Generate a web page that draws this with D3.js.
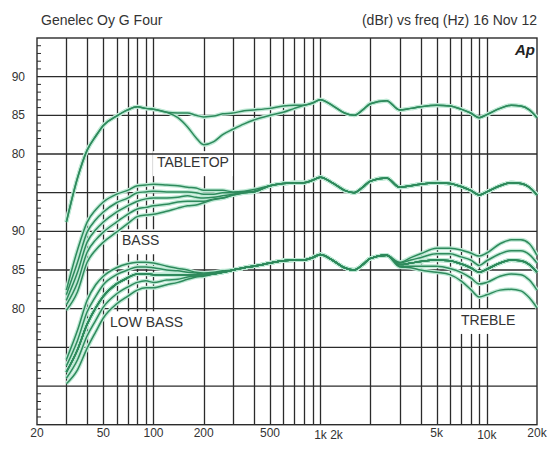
<!DOCTYPE html>
<html>
<head>
<meta charset="utf-8">
<script src="https://cdn.jsdelivr.net/npm/d3@7"></script>
<style>
  body { margin: 0; background: #fff; }
  text { font-family: "Liberation Sans", Arial, sans-serif; fill: #333; }
</style>
</head>
<body>
<svg id="chart"></svg>
<script>
/*=================
=== Data
=================*/
var freqs = [30, 35, 40, 45, 50, 60, 70, 80, 90, 100, 120, 140, 160, 180, 200, 230, 260, 300, 350, 400,
	500, 600, 700, 800, 900, 1000, 1200, 1400, 1600, 1800, 2000, 2500, 3000, 3500, 4000, 5000, 6000,
	7000, 8000, 9000, 10000, 12000, 14000, 16000, 18000, 20000];

// tabletop group (full range)
var tabletopFlat = [71.2, 76.9, 80.5, 82.3, 83.7, 84.9, 85.7, 86.1, 85.9, 85.8, 85.4, 85.3, 85.3, 85.0, 84.8, 84.9, 85.2, 85.3, 85.6, 85.7,
	85.9, 86.2, 86.3, 86.3, 86.6, 87.0, 86.2, 85.3, 85.0, 85.7, 86.5, 86.9, 85.7, 85.9, 86.1, 86.3, 86.2, 85.8, 85.3, 84.7, 85.1, 85.9, 86.3, 86.2, 85.7, 84.7];
var tabletopDip = [71.2, 76.9, 80.5, 82.3, 83.7, 84.9, 85.7, 86.1, 85.9, 85.8, 85.4, 84.7, 83.5, 82.1, 81.2, 81.6, 82.5, 83.2, 83.9, 84.4,
	85.0, 85.4, 85.9, 86.3, 86.6, 87.0, 86.2, 85.3, 85.0, 85.7, 86.5, 86.9, 85.7, 85.9, 86.1, 86.3, 86.2, 85.8, 85.3, 84.7, 85.1, 85.9, 86.3, 86.2, 85.7, 84.7];

// bass group: 30..400 Hz part, then shared 500..20k part
var bassLow = [
	[62.4, 67.6, 71.2, 72.8, 73.8, 74.8, 75.3, 75.9, 76.0, 76.1, 76.0, 75.9, 75.7, 75.6, 75.3, 75.3, 75.3, 75.1, 75.2, 75.4],
	[61.8, 66.0, 69.9, 71.5, 72.5, 73.7, 74.3, 75.0, 75.1, 75.2, 75.1, 75.1, 75.1, 75.0, 74.8, 74.8, 75.0, 75.0, 75.1, 75.2],
	[61.1, 64.7, 68.6, 70.2, 71.2, 72.5, 73.3, 73.9, 74.2, 74.3, 74.3, 74.4, 74.6, 74.4, 74.3, 74.4, 74.6, 74.8, 75.0, 75.1],
	[60.5, 63.4, 67.3, 68.9, 69.9, 71.2, 72.2, 72.9, 73.1, 73.3, 73.5, 73.8, 73.9, 73.9, 73.9, 74.2, 74.3, 74.7, 75.0, 75.1],
	[59.8, 62.2, 66.0, 67.6, 68.6, 69.9, 71.0, 71.9, 72.1, 72.2, 72.6, 73.0, 73.3, 73.4, 73.7, 74.1, 74.3, 74.7, 75.0, 75.1]
];
var bassHigh = [75.9, 76.2, 76.3, 76.3, 76.6, 77.0, 76.2, 75.3, 75.0, 75.7, 76.5, 76.9, 75.7, 75.9, 76.1, 76.3, 76.2, 75.8, 75.3, 74.7, 75.1, 75.9, 76.3, 76.2, 75.7, 74.7];

// low bass / treble group: 30..400, 500..2500, 3k..20k
var lowBassLow = [
	[53.4, 57.2, 61.1, 63.1, 64.2, 65.3, 65.8, 66.0, 66.0, 65.9, 65.5, 65.2, 65.0, 64.7, 64.6, 64.7, 64.9, 65.0, 65.3, 65.5],
	[52.6, 55.9, 59.6, 61.6, 63.1, 64.4, 65.0, 65.4, 65.4, 65.3, 65.0, 64.9, 64.7, 64.6, 64.5, 64.6, 64.7, 65.0, 65.3, 65.5],
	[51.8, 54.7, 58.0, 60.1, 61.6, 63.2, 64.0, 64.5, 64.5, 64.4, 64.4, 64.4, 64.4, 64.4, 64.4, 64.5, 64.7, 65.0, 65.3, 65.5],
	[51.0, 53.4, 56.5, 58.5, 60.2, 61.9, 62.8, 63.4, 63.6, 63.4, 63.7, 63.8, 64.1, 64.2, 64.4, 64.5, 64.7, 65.0, 65.3, 65.5],
	[50.3, 52.1, 54.9, 57.0, 58.8, 60.6, 61.6, 62.4, 62.7, 62.7, 63.1, 63.4, 63.8, 64.1, 64.2, 64.5, 64.7, 65.0, 65.3, 65.5]
];
var lowMid = [65.9, 66.2, 66.3, 66.3, 66.6, 67.0, 66.2, 65.3, 65.0, 65.7, 66.5, 66.9];
var trebleHigh = [
	[66.0, 66.6, 67.1, 67.8, 67.8, 67.6, 67.2, 66.8, 67.2, 68.4, 68.9, 68.9, 68.4, 66.9],
	[65.9, 66.3, 66.6, 67.1, 67.1, 66.7, 66.3, 65.6, 66.2, 67.1, 67.5, 67.5, 67.0, 65.9],
	[65.7, 65.9, 66.1, 66.3, 66.2, 65.8, 65.3, 64.7, 65.1, 65.9, 66.3, 66.2, 65.7, 64.7],
	[65.5, 65.5, 65.5, 65.5, 65.2, 64.7, 64.0, 63.2, 63.4, 64.2, 64.5, 64.4, 63.7, 62.4],
	[65.4, 65.3, 65.0, 64.7, 64.4, 63.6, 62.5, 61.5, 61.8, 62.4, 62.5, 62.3, 61.4, 60.1]
];

// axis labels
var xTickVals = [20, 50, 100, 200, 500, 1000, 5000, 10000, 20000];
var xTickLabels = ['20', '50', '100', '200', '500', '1k 2k', '5k', '10k', '20k'];
var yTickVals = [90, 85, 80, 70, 65, 60];
var yTickLabels = ['90', '85', '80', '90', '85', '80'];

// curve names written on the plot
var annoText = ['TABLETOP', 'BASS', 'LOW BASS', 'TREBLE'];
var annoFreq = [105, 64.7, 54.8, 7000];
var annoDb = [78.3, 68.2, 57.6, 57.9];

/*=================
=== Setup
=================*/
var width = 548, height = 453;
var mLeft = 37, mRight = 537, mTop = 38, mBottom = 424.7;
var gridColor = '#2b2b2b';

var svg = d3.select('#chart')
	.attr('width', width)
	.attr('height', height);

svg.append('rect')
	.attr('width', width)
	.attr('height', height)
	.attr('fill', '#fff');

var x = d3.scaleLog().domain([20, 20000]).range([mLeft, mRight]);
var y = d3.scaleLinear().domain([45, 95]).range([mBottom, mTop]);

// layers
var gV = svg.append('g');
var gBox = svg.append('g');
var gH = svg.append('g');
var gCurves = svg.append('g');
var gText = svg.append('g');

// vertical grid: 30..90, 100..900, 1k..9k, 10k
var xGrid = [];
[10, 100, 1000].forEach(dec => {
	for (var k = 1; k <= 9; k++) {
		var f = dec * k;
		if (f > 20) xGrid.push(f);
	}
});
xGrid.push(10000);

gV.selectAll('line')
	.data(xGrid)
	.enter()
	.append('line')
	.attr('x1', d => Math.round(x(d)) + 0.5)
	.attr('x2', d => Math.round(x(d)) + 0.5)
	.attr('y1', mTop)
	.attr('y2', mBottom)
	.attr('stroke', gridColor)
	.attr('stroke-width', 1.3);

// horizontal grid
gH.selectAll('line.h')
	.data(d3.range(50, 95, 5))
	.enter()
	.append('line')
	.attr('class', 'h')
	.attr('x1', mLeft)
	.attr('x2', mRight)
	.attr('y1', d => y(d))
	.attr('y2', d => y(d))
	.attr('stroke', gridColor)
	.attr('stroke-width', 1.3);

// minor ticks on left axis
gH.selectAll('line.m')
	.data(d3.range(46, 95, 1).filter(d => d % 5 !== 0))
	.enter()
	.append('line')
	.attr('class', 'm')
	.attr('x1', mLeft)
	.attr('x2', mLeft + 4)
	.attr('y1', d => y(d))
	.attr('y2', d => y(d))
	.attr('stroke', gridColor)
	.attr('stroke-width', 1);

gH.append('rect')
	.attr('x', mLeft)
	.attr('y', mTop)
	.attr('width', mRight - mLeft)
	.attr('height', mBottom - mTop)
	.attr('fill', 'none')
	.attr('stroke', gridColor)
	.attr('stroke-width', 1.4);

// curve names, with a white box that hides the vertical grid behind them
annoText.forEach((t, i) => {
	var tx = gText.append('text')
		.attr('x', x(annoFreq[i]))
		.attr('y', y(annoDb[i]))
		.attr('font-size', 14)
		.text(t);
	var bb = tx.node().getBBox();
	gBox.append('rect')
		.attr('x', bb.x - 4)
		.attr('y', bb.y - 3)
		.attr('width', bb.width + 8)
		.attr('height', bb.height + 9)
		.attr('fill', '#fff');
});

/*=================
=== Curves
=================*/
var series = [tabletopFlat, tabletopDip];
bassLow.forEach(lo => series.push(lo.concat(bassHigh)));
lowBassLow.forEach(lo => series.push(lo.concat(lowMid, trebleHigh[2])));
trebleHigh.forEach((hi, i) => { if (i !== 2) series.push(lowBassLow[2].concat(lowMid, hi)); });

var line = d3.line()
	.x((d, i) => x(freqs[i]))
	.y(d => y(d))
	.curve(d3.curveMonotoneX);

gCurves.selectAll('path.halo')
	.data(series)
	.enter()
	.append('path')
	.attr('class', 'halo')
	.attr('d', line)
	.attr('fill', 'none')
	.attr('stroke', '#bfe9d5')
	.attr('stroke-width', 4);

gCurves.selectAll('path.curve')
	.data(series)
	.enter()
	.append('path')
	.attr('class', 'curve')
	.attr('d', line)
	.attr('fill', 'none')
	.attr('stroke', '#2e8a5c')
	.attr('stroke-width', 1.5);

/*=================
=== Axis text
=================*/
gText.selectAll('text.xl')
	.data(xTickVals)
	.enter()
	.append('text')
	.attr('class', 'xl')
	.attr('x', d => x(d))
	.attr('y', 437)
	.attr('text-anchor', (d, i) => xTickLabels[i] === '1k 2k' ? 'start' : 'middle')
	.attr('dx', (d, i) => xTickLabels[i] === '1k 2k' ? -6 : 0)
	.attr('dy', (d, i) => (xTickLabels[i] === '1k 2k' || xTickLabels[i] === '10k') ? 2 : 0)
	.attr('font-size', 12)
	.text((d, i) => xTickLabels[i]);

gText.selectAll('text.yl')
	.data(yTickVals)
	.enter()
	.append('text')
	.attr('class', 'yl')
	.attr('x', 25)
	.attr('y', d => y(d) + 4)
	.attr('text-anchor', 'end')
	.attr('font-size', 12)
	.text((d, i) => yTickLabels[i]);

gText.append('text')
	.attr('x', 41)
	.attr('y', 25)
	.attr('font-size', 14)
	.text('Genelec Oy G Four');

gText.append('text')
	.attr('x', 537)
	.attr('y', 25)
	.attr('text-anchor', 'end')
	.attr('font-size', 14)
	.text('(dBr) vs freq (Hz) 16 Nov 12');

gText.append('text')
	.attr('x', 535)
	.attr('y', 55)
	.attr('text-anchor', 'end')
	.attr('font-size', 15)
	.attr('font-weight', 'bold')
	.attr('font-style', 'italic')
	.style('fill', '#222')
	.text('Ap');
</script>
</body>
</html>
